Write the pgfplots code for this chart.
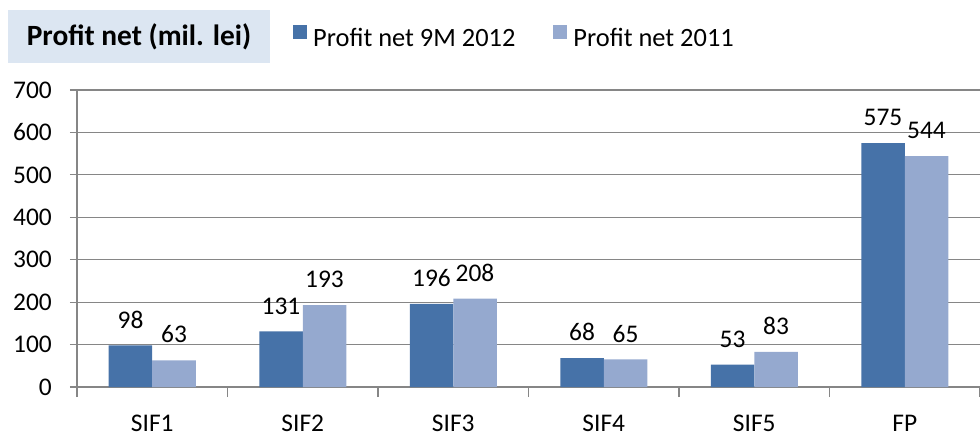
\documentclass[border=0pt]{standalone}
\usepackage{pgfplots}
\pgfplotsset{compat=1.18}
\usepackage{fontspec}
\setmainfont{Carlito}
\definecolor{dark}{RGB}{70,114,168}
\definecolor{light}{RGB}{149,169,207}
\definecolor{boxc}{RGB}{220,230,242}
\definecolor{gridc}{RGB}{134,134,134}
\newcommand{\lf}{\fontsize{25.5}{30}\selectfont}
\begin{document}
\begin{tikzpicture}
\useasboundingbox (-77bp,-45bp) rectangle (903bp,387bp);
\begin{axis}[
  scale only axis, width=903bp, height=297bp,
  clip=false,
  xmin=-0.5, xmax=5.5, ymin=0, ymax=700,
  axis x line*=bottom, axis y line*=left,
  axis line style={draw=gridc, line width=1.2pt, -},
  ytick={0,100,...,700},
  xtick={0,...,5},
  xticklabels={SIF1,SIF2,SIF3,SIF4,SIF5,FP},
  minor xtick={-0.5,0.5,...,5.5},
  tick align=outside,
  major tick length=7bp, minor tick length=10bp,
  major x tick style={draw=none},
  minor x tick style={draw=gridc, line width=1.2pt},
  major y tick style={draw=gridc, line width=1.2pt},
  ymajorgrids, grid style={draw=gridc, line width=1.2pt},
  /pgf/number format/assume math mode=true,
  tick label style={font=\lf, text=black},
  yticklabel style={inner sep=0pt, anchor=east, xshift=-18bp},
  xticklabel style={inner sep=0pt, anchor=north, yshift=-21bp},
  ybar=0pt, bar width=43.5bp,
  nodes near coords,
  every node near coord/.append style={font=\lf, text=black, inner sep=0pt, anchor=south, yshift=17bp},
  legend columns=2,
  legend style={draw=none, fill=none, inner sep=0pt, font=\fontsize{26.5}{31}\selectfont,
    at={(axis description cs:0.2392,1.1801)}, anchor=west,
    nodes={inner sep=0pt},
    /tikz/every odd column/.append style={column sep=6bp},
    /tikz/every even column/.append style={column sep=38bp}},
  legend image code/.code={\fill[#1,draw=none] (0bp,0bp) rectangle (14bp,14bp);},
]
\addplot[fill=dark, draw=none] coordinates {(0,98) (1,131) (2,196) (3,68) (4,53) (5,575)};
\addplot[fill=light, draw=none] coordinates {(0,63) (1,193) (2,208) (3,65) (4,83) (5,544)};
\legend{Profit net 9M 2012, Profit net 2011}
\node[fill=boxc, minimum width=262bp, minimum height=53bp, inner sep=0pt,
  font=\fontsize{29.5}{34}\selectfont\bfseries]
  at (axis description cs:0.0687,1.1801) {Profit net (mil. lei)};
\end{axis}
\end{tikzpicture}
\end{document}
